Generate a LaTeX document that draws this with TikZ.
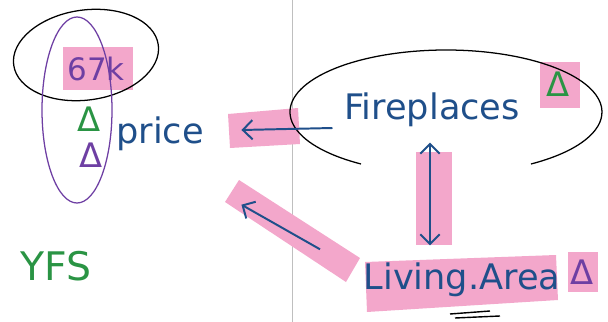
\documentclass[tikz,border=0pt]{standalone}
\usepackage{fontspec}
\setmainfont{DejaVu Sans}
\usepackage{xcolor}
\usetikzlibrary{arrows.meta,calc,positioning}

\definecolor{inkblue}{HTML}{1F4F8A}
\definecolor{inkgreen}{HTML}{2A9444}
\definecolor{inkpurple}{HTML}{6E3FA3}
\definecolor{marker}{HTML}{F3A7CB}

\begin{document}
\begin{tikzpicture}[
    x=0.025cm, y=-0.025cm,
    every node/.style={inner sep=1pt},
    word/.style={text=inkblue, font=\fontsize{25}{28}\selectfont},
    delta/.style={font=\fontsize{24}{26}\selectfont},
    highlight/.style={fill=marker, draw=none},
    loop/.style={draw=black, line width=0.9pt},
    arrow/.style={-{Straight Barb[length=2.4mm]}, draw=inkblue, line width=1.4pt}
]
\useasboundingbox (0,0) rectangle (608,322);

% page split
\draw[black!25, line width=0.6pt] (292,0) -- (292,322);

% marker highlights
\fill[highlight] (63,47) rectangle (133,90);
\fill[highlight] (228,114) -- (298,108) -- (300,144) -- (230,148) -- cycle;
\fill[highlight] (540,62) rectangle (580,108);
\fill[highlight] (416,152) rectangle (452,245);
\fill[highlight] (365,262) -- (556,255) -- (558,300) -- (367,312) -- cycle;
\fill[highlight] (568,252) rectangle (598,292);
\fill[highlight] (239,180) -- (360,258) -- (346,282) -- (225,202) -- cycle;

% Left side: target
\node[text=inkpurple, font=\fontsize{22}{24}\selectfont] (target) at (96,69) {67k};
\node[word] (price) at (160,134) {price};
\node[delta, text=inkgreen] (dgreen) at (89,119) {Δ};
\node[delta, text=inkpurple] (dpurple) at (91,155) {Δ};
\node[text=inkgreen, font=\fontsize{28}{30}\selectfont] (yfs) at (56,266) {YFS};

% Right side: predictors
\node[word] (fire) at (432,110) {Fireplaces};
\node[delta, text=inkgreen] (dfire) at (558,84) {Δ};
\node[word] (living) at (462,280) {Living.Area};
\node[delta, text=inkpurple] (dliving) at (582,272) {Δ};

% Loops
\draw[loop, rotate around={8:(86,55)}] (86,55) ellipse (73 and 45);
\draw[inkpurple, line width=0.9pt] (77,110) ellipse (35 and 93);
\draw[loop] (446,112) ++(123:156 and 62) arc (123:417:156 and 62);

% Relations
\draw[arrow] ($(fire.west)+(-10,18)$) -- ($(price.east)+(36,-4)$);
\draw[arrow] ($(living.north west)+(-42,-12)$) -- ($(price.south east)+(36,52)$);
\draw[arrow, {Straight Barb[length=2.4mm]}-{Straight Barb[length=2.4mm]}]
    ($(fire.south)+(-2,14)$) -- ($(living.north)+(-32,-16)$);

% scribble under Living.Area
\draw[black, line width=1pt] (450,314) -- (490,311);
\draw[black, line width=1pt] (455,318) -- (500,316);

\end{tikzpicture}
\end{document}
